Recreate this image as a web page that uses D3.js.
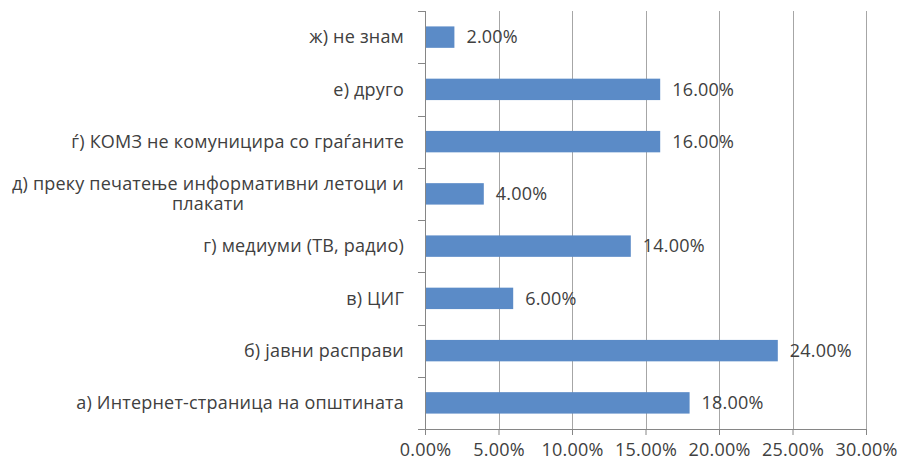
<!DOCTYPE html>
<html>
<head>
<meta charset="utf-8">
<script src="https://cdn.jsdelivr.net/npm/d3@7"></script>
<style>
  body { margin: 0; background: #fff; }
  text { font-family: "Open Sans", sans-serif; fill: #404040; letter-spacing: 0.2px; }
</style>
</head>
<body>
<div class="container"></div>
<script>
// категории одозгора надолу
var categories = [
  'ж) не знам',
  'е) друго',
  'ѓ) КОМЗ не комуницира со граѓаните',
  'д) преку печатење информативни летоци и|плакати',
  'г) медиуми (ТВ, радио)',
  'в) ЦИГ',
  'б) јавни расправи',
  'а) Интернет-страница на општината'
];
var values = [2, 16, 16, 4, 14, 6, 24, 18];
var ticks = [0, 5, 10, 15, 20, 25, 30];

var margin = { top: 11, right: 34, bottom: 33, left: 425 },
  width = 900 - margin.left - margin.right,
  height = 462 - margin.top - margin.bottom;

var svg = d3
  .select('.container')
  .append('svg')
  .attr('width', 900)
  .attr('height', 462)
  .append('g')
  .attr('transform', 'translate(' + margin.left + ',' + margin.top + ')');

var x = d3.scaleLinear().domain([0, 30]).range([0, width]);
var y = d3.scaleBand().domain(categories).range([0, height]).paddingInner(0.59).paddingOuter(0.295);

// мрежа
svg
  .selectAll('line.grid')
  .data(ticks.slice(1))
  .enter()
  .append('line')
  .attr('x1', function (d) { return Math.round(x(d)) + 0.5; })
  .attr('x2', function (d) { return Math.round(x(d)) + 0.5; })
  .attr('y1', 0)
  .attr('y2', height)
  .attr('stroke', '#a6a6a6');

svg
  .selectAll('rect.bar')
  .data(values)
  .enter()
  .append('rect')
  .attr('class', 'bar')
  .attr('x', 0)
  .attr('y', function (d, i) { return y(categories[i]); })
  .attr('width', function (d) { return x(d); })
  .attr('height', y.bandwidth())
  .attr('fill', '#5b8bc7');

svg
  .selectAll('text.val')
  .data(values)
  .enter()
  .append('text')
  .attr('class', 'val')
  .attr('x', function (d) { return x(d) + 12; })
  .attr('y', function (d, i) { return y(categories[i]) + y.bandwidth() / 2; })
  .attr('dy', '.35em')
  .style('font-size', '18px')
  .text(function (d) { return d.toFixed(2) + '%'; });

// x оска
var xAxis = svg
  .append('g')
  .attr('transform', 'translate(0,' + height + ')')
  .call(d3.axisBottom(x).tickValues(ticks).tickSize(6).tickPadding(8)
    .tickFormat(function (d) { return d.toFixed(2) + '%'; }));
xAxis.select('.domain').attr('stroke', '#868686');
xAxis.selectAll('.tick line').attr('stroke', '#868686');
xAxis.selectAll('.tick text').style('font-size', '18px').attr('fill', '#404040');

// y оска со цртички меѓу категориите
var yTicks = d3.range(categories.length + 1);
svg
  .append('line')
  .attr('x1', 0.5).attr('x2', 0.5)
  .attr('y1', 0).attr('y2', height)
  .attr('stroke', '#868686');
svg
  .selectAll('line.ytick')
  .data(yTicks)
  .enter()
  .append('line')
  .attr('x1', -7).attr('x2', 0.5)
  .attr('y1', function (d) { return Math.round(d * height / categories.length) + 0.5; })
  .attr('y2', function (d) { return Math.round(d * height / categories.length) + 0.5; })
  .attr('stroke', '#868686');

var labels = svg
  .selectAll('text.cat')
  .data(categories)
  .enter()
  .append('text')
  .attr('class', 'cat')
  .style('font-size', '18px')
  .attr('y', function (d) { return y(d) + y.bandwidth() / 2; });

labels.each(function (d) {
  var parts = d.split('|');
  var t = d3.select(this);
  var cy = y(d) + y.bandwidth() / 2;
  if (parts.length == 1) {
    t.attr('x', -21).attr('text-anchor', 'end').attr('dy', '.35em').text(d);
  } else {
    // две линии, центрирани
    t.attr('text-anchor', 'middle');
    var first = t.append('tspan').text(parts[0]);
    var w = first.node().getComputedTextLength();
    var cx = -21 - w / 2;
    first.attr('x', cx).attr('y', cy - 4);
    t.append('tspan').attr('x', cx).attr('y', cy + 16).text(parts[1]);
  }
});
</script>
</body>
</html>
